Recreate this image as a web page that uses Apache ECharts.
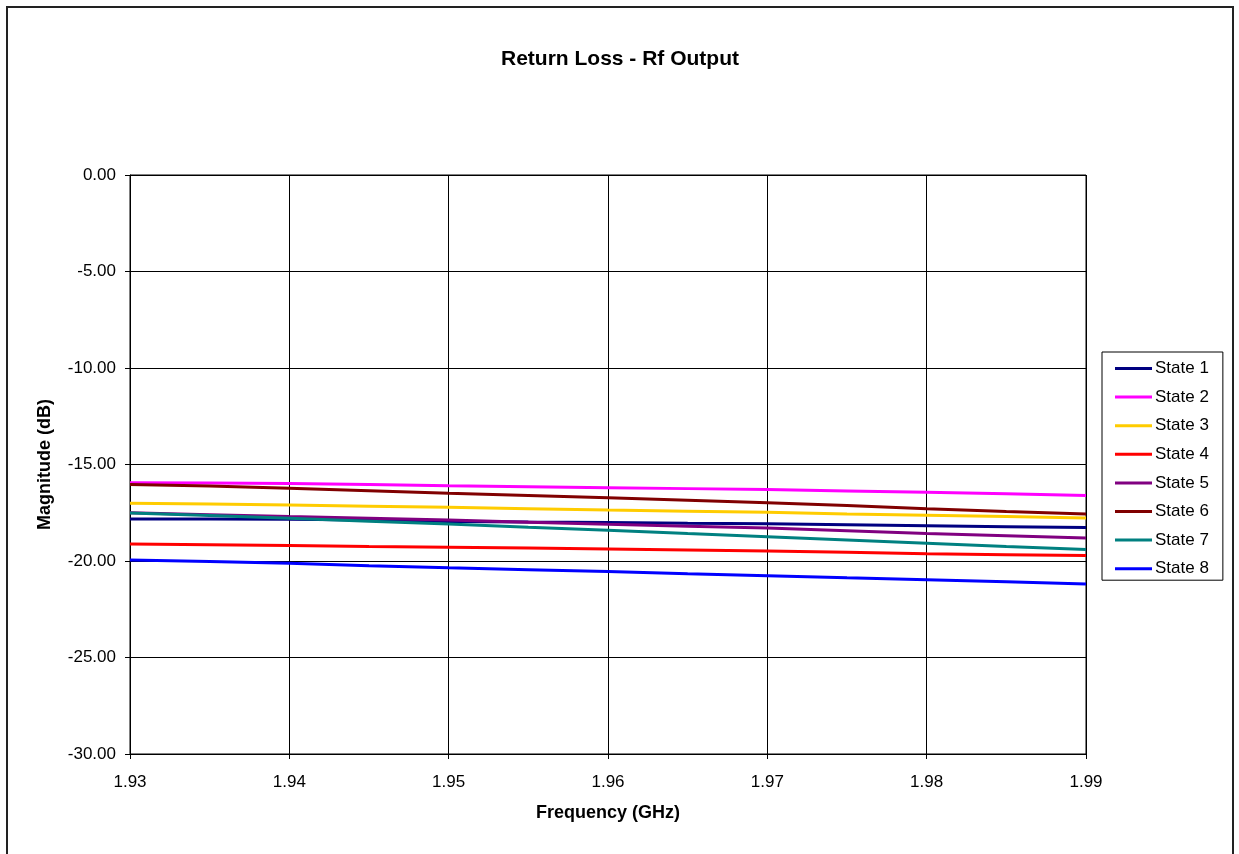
<!DOCTYPE html>
<html><head><meta charset="utf-8">
<script src="https://cdn.jsdelivr.net/npm/echarts@6/dist/echarts.min.js"></script>
<style>html,body{margin:0;padding:0;background:#fff}#c{width:1239px;height:854px}</style>
</head><body><div id="c"></div>
<script>
const freqs = [1.93,1.935,1.94,1.945,1.95,1.955,1.96,1.965,1.97,1.975,1.98,1.985,1.99];
const state1 = [-17.82,-17.83,-17.84,-17.88,-17.95,-17.98,-18.0,-18.04,-18.07,-18.12,-18.17,-18.22,-18.27];
const state2 = [-15.94,-15.96,-15.99,-16.04,-16.1,-16.15,-16.2,-16.25,-16.3,-16.37,-16.44,-16.52,-16.6];
const state3 = [-17.01,-17.05,-17.1,-17.16,-17.22,-17.29,-17.36,-17.42,-17.48,-17.56,-17.63,-17.7,-17.77];
const state4 = [-19.12,-19.16,-19.2,-19.25,-19.29,-19.33,-19.38,-19.43,-19.48,-19.55,-19.62,-19.67,-19.72];
const state5 = [-17.5,-17.6,-17.7,-17.79,-17.88,-17.99,-18.1,-18.2,-18.29,-18.43,-18.57,-18.69,-18.81];
const state6 = [-16.03,-16.12,-16.23,-16.36,-16.49,-16.6,-16.72,-16.85,-16.98,-17.13,-17.29,-17.43,-17.56];
const state7 = [-17.51,-17.64,-17.79,-17.94,-18.08,-18.25,-18.41,-18.58,-18.74,-18.91,-19.08,-19.25,-19.41];
const state8 = [-19.95,-20.03,-20.12,-20.24,-20.35,-20.45,-20.55,-20.66,-20.76,-20.87,-20.97,-21.08,-21.19];
const seriesNames = ['State 1','State 2','State 3','State 4','State 5','State 6','State 7','State 8'];
const seriesData = [state1,state2,state3,state4,state5,state6,state7,state8];
const colors = ['#000080','#FF00FF','#FFCC00','#FF0000','#800080','#800000','#008080','#0000FF'];

const FONT = '"Liberation Sans", Arial, sans-serif';
const chart = echarts.init(document.getElementById('c'), null, {renderer:'canvas'});
chart.setOption({
  animation:false,
  backgroundColor:'#fff',
  color: colors,
  textStyle:{fontFamily:FONT},
  title:{text:'Return Loss - Rf Output', left:501, top:49, padding:0,
    textStyle:{fontFamily:FONT,fontSize:21,fontWeight:'bold',color:'#000'}},
  grid:{left:130, top:175, right:153, bottom:100, show:true, borderColor:'#000', borderWidth:1},
  legend:{
    orient:'vertical', left:1102, top:352,
    padding:[8,14,3,13], itemGap:11.6, itemWidth:37, itemHeight:3,
    borderColor:'#000', borderWidth:1, backgroundColor:'#fff', borderRadius:0,
    textStyle:{fontFamily:FONT,fontSize:17,color:'#000',padding:[0,0,0,-2]},
    icon:'rect',
    data: seriesNames
  },
  xAxis:{
    type:'value', min:1.93, max:1.99, interval:0.01,
    name:'Frequency (GHz)', nameLocation:'middle', nameGap:50,
    nameTextStyle:{fontFamily:FONT,fontSize:18,fontWeight:'bold',color:'#000'},
    axisLine:{onZero:false,lineStyle:{color:'#000',width:1}},
    axisTick:{show:true,length:5,lineStyle:{color:'#000'}},
    axisLabel:{color:'#000',fontSize:17,fontFamily:FONT,margin:20,formatter:v=>v.toFixed(2)},
    splitLine:{show:true,lineStyle:{color:'#000',width:1}}
  },
  yAxis:{
    type:'value', min:-30, max:0, interval:5,
    name:'Magnitude (dB)', nameLocation:'middle', nameGap:76, nameRotate:90,
    nameTextStyle:{fontFamily:FONT,fontSize:18,fontWeight:'bold',color:'#000'},
    axisLine:{show:true,lineStyle:{color:'#000',width:1}},
    axisTick:{show:true,length:5,lineStyle:{color:'#000'}},
    axisLabel:{color:'#000',fontSize:17,fontFamily:FONT,margin:14,formatter:v=>v.toFixed(2)},
    splitLine:{show:true,lineStyle:{color:'#000',width:1}}
  },
  series: seriesNames.map((n,i)=>({
    name:n, type:'line', showSymbol:false, symbol:'none',
    lineStyle:{width:3,color:colors[i]},
    data: freqs.map((f,j)=>[f, seriesData[i][j]])
  })),
  graphic:[{type:'rect', shape:{x:7,y:7,width:1226,height:870},
    style:{fill:'none',stroke:'#222',lineWidth:2}, silent:true, z:100}]
});
</script></body></html>
